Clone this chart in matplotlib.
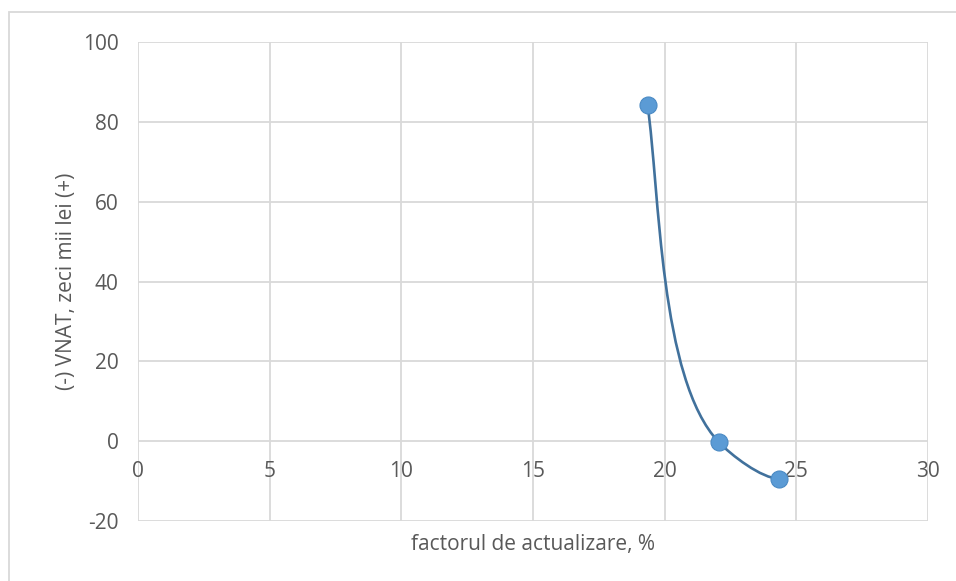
import numpy as np
import matplotlib.pyplot as plt
from matplotlib.patches import Rectangle, PathPatch
from matplotlib.path import Path

# valori
factor = [19.35, 22.05, 24.35]
vnat = [84.2, -0.2, -9.4]

x_ticks = [0, 5, 10, 15, 20, 25, 30]
y_ticks = [-20, 0, 20, 40, 60, 80, 100]

text_col = "#595959"
grid_col = "#d9d9d9"
pt_col = "#5b9bd5"
line_col = "#41719c"
fs = 15

plt.rcParams['font.family'] = ['Open Sans', 'DejaVu Sans']
plt.rcParams['axes.unicode_minus'] = False

fig = plt.figure(figsize=(9.56, 5.81), dpi=100)
# chenar exterior
fig.patches.append(Rectangle((9 / 956, -0.1), 1.1, 1 - 12 / 581 + 0.1,
                             transform=fig.transFigure, fill=False,
                             edgecolor=grid_col, lw=1.3))

ax = fig.add_axes([138 / 956, 1 - 521 / 581, 790 / 956, 479 / 581])
ax.set_xlim(0, 30)
ax.set_ylim(-20, 100)
ax.set_xticks(x_ticks)
ax.set_yticks(y_ticks)
ax.grid(True, color=grid_col, lw=1.3)
ax.set_axisbelow(True)
for s in ax.spines.values():
    s.set_visible(False)
ax.tick_params(length=0, labelsize=fs, colors=text_col, pad=14)

# etichetele axei x stau la y=0
ax.set_xticklabels([])
for t in x_ticks:
    ax.annotate(str(t), xy=(t, 0), xytext=(0, -14), textcoords='offset points',
                ha='center', va='top', fontsize=fs, color=text_col)


def smooth_path(xs, ys):
    # curba netezita calculata in pixeli (pante tip PCHIP, manere 1/4 din coarda)
    p = ax.transData.transform(np.column_stack([xs, ys]))
    n = len(p)
    h = np.diff(p[:, 0])
    d = np.diff(p[:, 1]) / h
    m = np.zeros(n)
    for i in range(1, n - 1):
        w1 = 2 * h[i] + h[i - 1]
        w2 = h[i] + 2 * h[i - 1]
        m[i] = (w1 + w2) / (w1 / d[i - 1] + w2 / d[i])
    m[0] = ((2 * h[0] + h[1]) * d[0] - h[0] * d[1]) / (h[0] + h[1])
    m[-1] = ((2 * h[-1] + h[-2]) * d[-1] - h[-1] * d[-2]) / (h[-1] + h[-2])
    if np.sign(m[-1]) != np.sign(d[-1]):
        m[-1] = 0
    tang = np.column_stack([np.ones(n), m])
    tang /= np.linalg.norm(tang, axis=1)[:, None]
    verts = [p[0]]
    codes = [Path.MOVETO]
    for i in range(n - 1):
        L = 0.25 * np.linalg.norm(p[i + 1] - p[i])
        verts += [p[i] + L * tang[i], p[i + 1] - L * tang[i + 1], p[i + 1]]
        codes += [Path.CURVE4] * 3
    verts = ax.transData.inverted().transform(np.array(verts))
    return Path(verts, codes)


ax.add_patch(PathPatch(smooth_path(factor, vnat), fill=False,
                       edgecolor=line_col, lw=1.9))
ax.scatter(factor, vnat, s=150, color=pt_col, edgecolor="#4a8ac4", lw=0.8, zorder=3)

ax.set_xlabel("factorul de actualizare, %", fontsize=fs, color=text_col)
ax.xaxis.set_label_coords(0.5, -0.05)
ax.xaxis.label.set_va('center')
ax.set_ylabel("(-) VNAT, zeci mii lei (+)", fontsize=fs, color=text_col)
ax.yaxis.set_label_coords(-0.09, 0.5)
ax.yaxis.label.set_va('center')

fig.savefig("out.png", dpi=100)
